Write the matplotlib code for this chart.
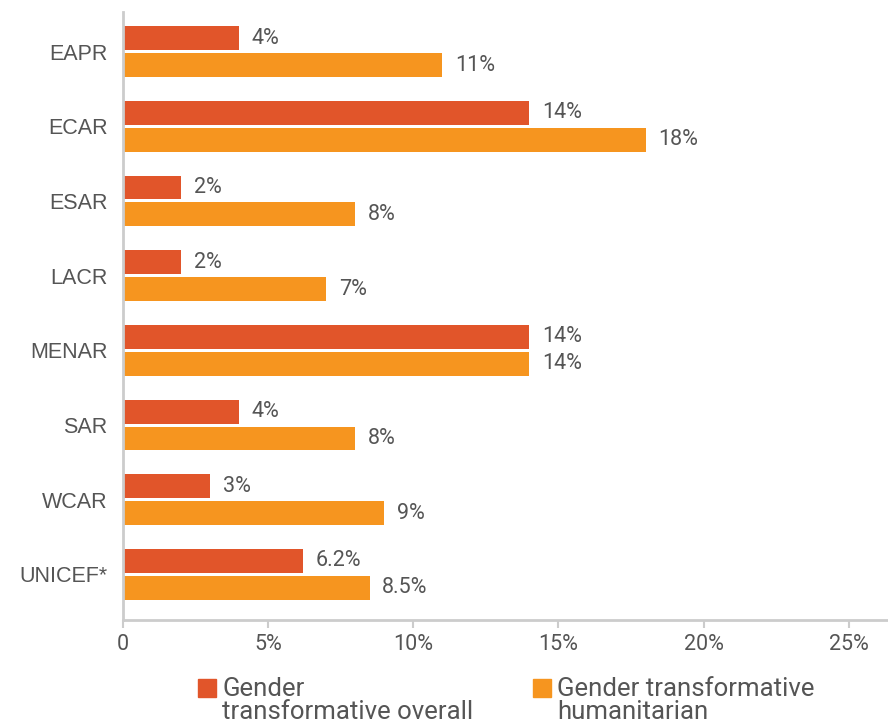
import matplotlib
matplotlib.use("Agg")
import matplotlib.pyplot as plt
import numpy as np
from matplotlib.patches import Patch, Rectangle
from matplotlib.legend_handler import HandlerPatch

plt.rcParams['font.family'] = ['Roboto', 'DejaVu Sans']

regions = ['EAPR', 'ECAR', 'ESAR', 'LACR', 'MENAR', 'SAR', 'WCAR', 'UNICEF*']
overall = [4, 14, 2, 2, 14, 4, 3, 6.2]
humanitarian = [11, 18, 8, 7, 14, 8, 9, 8.5]
xticks = [0, 5, 10, 15, 20, 25]
xtick_labels = ['0', '5%', '10%', '15%', '20%', '25%']
legend_labels = ['Gender\ntransformative overall', 'Gender transformative\nhumanitarian']

red = '#E1552A'
orange = '#F6951F'
grey = '#555555'

fig = plt.figure(figsize=(8.88, 7.21), dpi=100)
ax = fig.add_axes([123/888, 1 - 620/721, 1 - 123/888, (620 - 12)/721])

y = np.arange(len(regions))
h = 0.32
ax.barh(y - 0.18, overall, height=h, color=red)
ax.barh(y + 0.18, humanitarian, height=h, color=orange)


def fmt(v):
    return f'{v:g}%'


for yi, v in zip(y, overall):
    ax.annotate(fmt(v), (v, yi - 0.18), xytext=(9, 0), textcoords='offset points',
                va='center', ha='left', fontsize=15.5, color=grey)
for yi, v in zip(y, humanitarian):
    ax.annotate(fmt(v), (v, yi + 0.18), xytext=(9, 0), textcoords='offset points',
                va='center', ha='left', fontsize=15.5, color=grey)

ax.set_ylim(7.61, -0.53)
ax.set_xlim(0, 26.35)
ax.set_yticks(y)
ax.set_yticklabels(regions, fontsize=15.5, color=grey, family=['Liberation Sans', 'DejaVu Sans'])
ax.tick_params(axis='y', length=0, pad=11)
ax.set_xticks(xticks)
ax.set_xticklabels(xtick_labels, fontsize=15.5, color=grey)
ax.tick_params(axis='x', length=6, width=1.5, color='#cccccc', pad=4)

for s in ['top', 'right']:
    ax.spines[s].set_visible(False)
for s in ['left', 'bottom']:
    ax.spines[s].set_color('#cccccc')
    ax.spines[s].set_linewidth(2)


def top_square(legend, orig_handle, xdescent, ydescent, width, height, fontsize):
    return Rectangle((-xdescent, -ydescent + 0.5 * fontsize), width, height)


handles = [Patch(color=red), Patch(color=orange)]
leg = fig.legend(handles, legend_labels, loc='upper left', bbox_to_anchor=(198/888, 1 - 677/721),
                 ncol=2, frameon=False, fontsize=18.5, labelcolor=grey,
                 handlelength=0.7, handleheight=0.7, handletextpad=0.25,
                 columnspacing=2.3, labelspacing=0.1, borderpad=0, borderaxespad=0,
                 handler_map={Patch: HandlerPatch(patch_func=top_square)})
for t in leg.get_texts():
    t.set_linespacing(0.95)

fig.savefig('out.png', dpi=100)
